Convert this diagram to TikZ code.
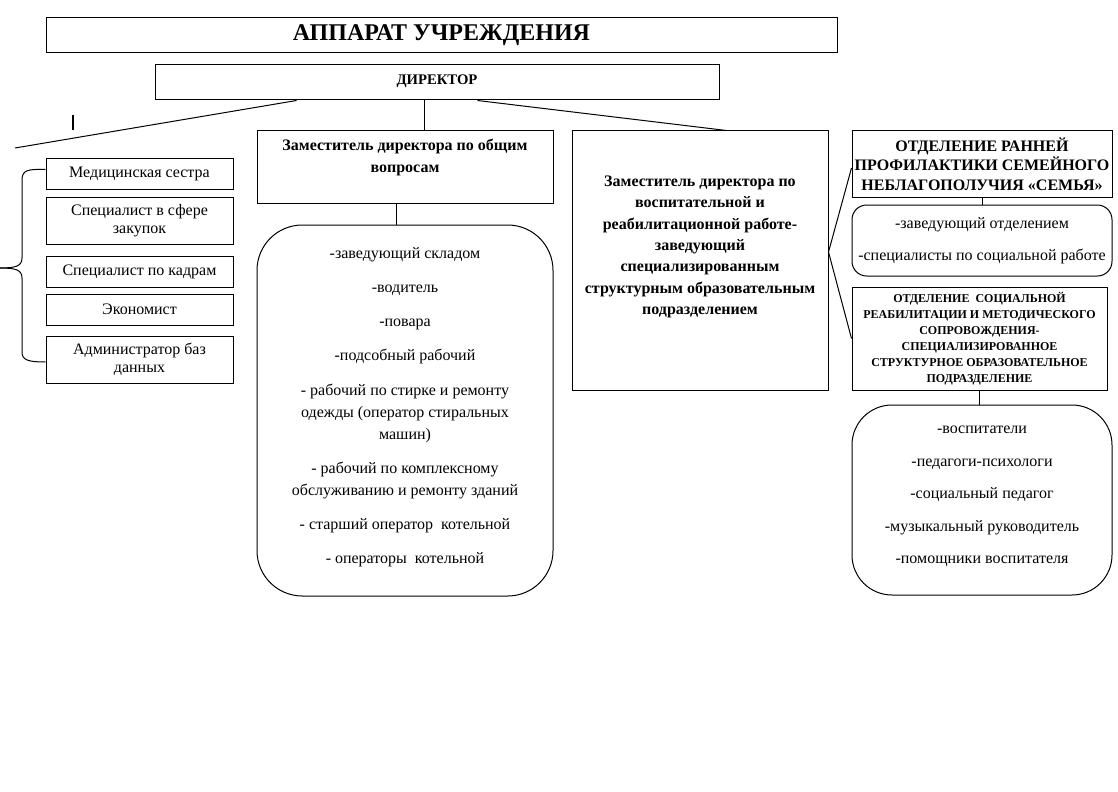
\documentclass[tikz,border=0pt]{standalone}
\usepackage{fontspec}
\setmainfont{Liberation Serif}
\usetikzlibrary{positioning,calc}

\begin{document}
\begin{tikzpicture}[
 x=0.75pt,y=-0.75pt,line width=0.75pt,
 b/.style={draw,rectangle,inner sep=1pt,align=center},
 hb/.style={b,font=\bfseries\fontsize{12}{16}\selectfont},
 lb/.style={b,minimum width=140.25pt,font=\fontsize{12}{13.5}\selectfont},
 rbox/.style={draw,rounded corners=#1,inner sep=1pt,align=center},
 bar/.style={line width=1.5pt}
]
\useasboundingbox (0,0) rectangle (1118,792);
% top
\node[b,minimum width=593.25pt,minimum height=26.25pt,font=\bfseries\fontsize{18}{20}\selectfont] (title) at (441.5,35.5) {АППАРАТ УЧРЕЖДЕНИЯ};
\node[b,minimum width=423pt,minimum height=26.25pt,font=\bfseries\fontsize{11}{13}\selectfont] (dir) at (437,82.5) {ДИРЕКТОР\\[-8pt]\mbox{}};
% deputies
\node[hb,minimum width=222pt,minimum height=54pt,font=\bfseries\fontsize{12}{16.5}\selectfont] (zg) at (405,167) {Заместитель директора по общим\\вопросам\\\mbox{}};
\node[rbox=34pt,minimum width=222pt,minimum height=278.25pt,font=\fontsize{12}{16.5}\selectfont] (sg) at (405,410.5) {-заведующий складом\\[9.1pt]-водитель\\[9.1pt]-повара\\[9.1pt]-подсобный рабочий\\[9.1pt]- рабочий по стирке и ремонту\\одежды (оператор стиральных\\машин)\\[9.1pt]- рабочий по комплексному\\обслуживанию и ремонту зданий\\[9.1pt]- старший оператор~ котельной\\[9.1pt]- операторы~ котельной\\[-9pt]\mbox{}};
\node[hb,minimum width=192pt,minimum height=194.25pt] (zv) at (700,260.5) {Заместитель директора по\\воспитательной и\\реабилитационной работе-\\заведующий\\специализированным\\структурным образовательным\\подразделением\\[7pt]\mbox{}};
% departments
\node[b,minimum width=195pt,minimum height=49.5pt,font=\bfseries\fontsize{12}{14.6}\selectfont] (ot1) at (982,164) {ОТДЕЛЕНИЕ РАННЕЙ\\ПРОФИЛАКТИКИ СЕМЕЙНОГО\\НЕБЛАГОПОЛУЧИЯ «СЕМЬЯ»};
\node[rbox=11pt,minimum width=195pt,minimum height=53.25pt,font=\fontsize{12}{14}\selectfont] (st1) at (982,240.5) {-заведующий отделением\\[10pt]-специалисты по социальной работе};
\node[b,minimum width=191.25pt,minimum height=77.25pt,font=\bfseries\fontsize{9}{12}\selectfont] (ot2) at (979.5,338.5) {ОТДЕЛЕНИЕ~ СОЦИАЛЬНОЙ\\РЕАБИЛИТАЦИИ И МЕТОДИЧЕСКОГО\\СОПРОВОЖДЕНИЯ-\\СПЕЦИАЛИЗИРОВАННОЕ\\СТРУКТУРНОЕ ОБРАЗОВАТЕЛЬНОЕ\\ПОДРАЗДЕЛЕНИЕ};
\node[rbox=30pt,minimum width=195pt,minimum height=142.5pt,font=\fontsize{12}{14}\selectfont] (st2) at (982,500) {-воспитатели\\[10.4pt]-педагоги-психологи\\[10.4pt]-социальный педагог\\[10.4pt]-музыкальный руководитель\\[10.4pt]-помощники воспитателя\\[-6.5pt]\mbox{}};
% left column
\node[lb,minimum height=23.25pt] (l1) at (139.5,173.5) {Медицинская сестра};
\node[lb,minimum height=35.25pt] (l2) at (139.5,220.5) {Специалист в сфере\\закупок};
\node[lb,minimum height=23.25pt] (l3) at (139.5,271.5) {Специалист по кадрам};
\node[lb,minimum height=23.25pt] (l4) at (139.5,309.5) {Экономист};
\node[lb,minimum height=35.25pt] (l5) at (139.5,359.5) {Администратор баз\\данных};
\coordinate (lend) at (15,148);
\coordinate (btip) at (0,268);
\coordinate (cur) at (73,115);
% links
\draw ($(dir.south west)+(142,0)$) -- (lend);
\draw ($(dir.south west)+(270,0)$) coordinate (dv) -- (dv |- zg.north);
\draw ($(dir.south west)+(323,0)$) -- ($(zv.north west)+(155,0)$);
\draw ($(zg.south west)+(140,0)$) coordinate (gv) -- (gv |- sg.north);
\draw ($(ot1.west)+(0,4)$) -- ($(zv.east)+(0,-8.5)$) -- (ot2.west);
\draw (ot1.south) -- (ot1.south |- st1.north);
\draw (ot2.south) -- (ot2.south |- st2.north);
% brace
\draw ($(l1.west)+(0,-4)$) .. controls (28,169) and (22,170) .. (22,180) -- (22,258) .. controls (22,266) and (16,268) .. (btip);
\draw (btip) .. controls (16,268) and (22,270) .. (22,278) -- (22,352) .. controls (22,360) and (28,362) .. ($(l5.west)+(0,2.5)$);
\draw[bar] (cur) -- ++(0,15);
\end{tikzpicture}
\end{document}
